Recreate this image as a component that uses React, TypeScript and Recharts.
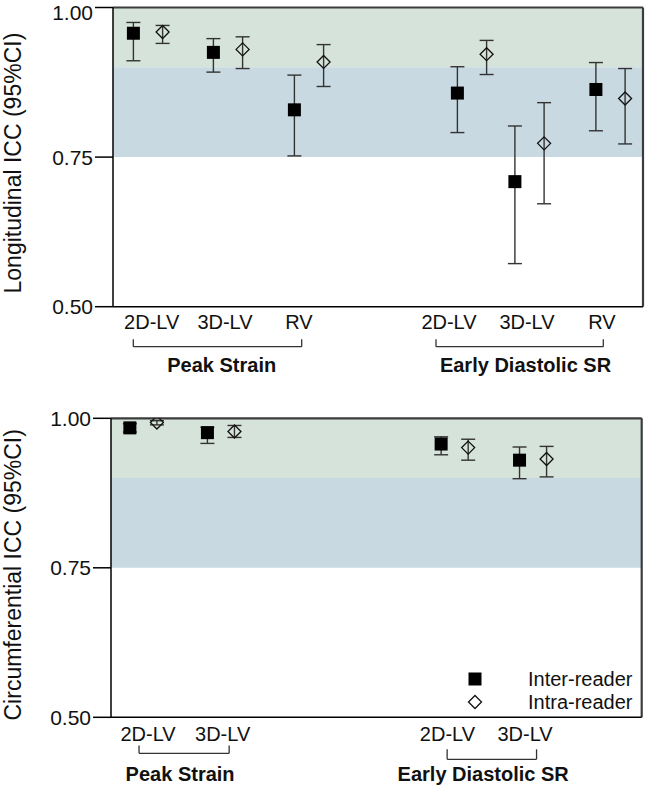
import React from "react";
import {
  ScatterChart,
  Scatter,
  XAxis,
  YAxis,
  ErrorBar,
  ReferenceArea,
  ReferenceLine,
  Label,
} from "recharts";

const FONT = "'Liberation Sans', Arial, Helvetica, sans-serif";

// shared
const seriesNames = ["Inter-reader", "Intra-reader"];
const yTicks = [0.5, 0.75, 1.0];
const excellentMin = 0.9;
const goodMin = 0.75;
const xDomain = [0, 53];

// longitudinal (top panel)
const longCategories = ["2D-LV", "3D-LV", "RV", "2D-LV", "3D-LV", "RV"];
const longPairPos = [3.5, 11.5, 19.6, 35.9, 41.65, 49.75];
const longLabelPos = [3.87, 11.2, 18.6, 33.6, 41.4, 48.9];
const longInter = [0.957, 0.925, 0.829, 0.857, 0.709, 0.863];
const longInterLo = [0.911, 0.892, 0.752, 0.791, 0.572, 0.794];
const longInterHi = [0.975, 0.948, 0.887, 0.901, 0.802, 0.908];
const longIntra = [0.959, 0.93, 0.909, 0.922, 0.773, 0.848];
const longIntraLo = [0.94, 0.898, 0.868, 0.888, 0.672, 0.772];
const longIntraHi = [0.97, 0.951, 0.938, 0.945, 0.841, 0.898];
const longGroups = ["Peak Strain", "Early Diastolic SR"];
const longGroupPos = [10.87, 41.25];
const longGroupY = 0.4154;
const longBrackets = [
  [2.03, 18.87],
  [32.3, 49.03],
];
const longBracketY = [0.4332, 0.4332];
const longBracketTop = [0.4455, 0.4455];

// circumferential (bottom panel)
const circCategories = ["2D-LV", "3D-LV", "2D-LV", "3D-LV"];
const circPairPos = [3.235, 10.98, 34.32, 42.15];
const circLabelPos = [3.7, 11.15, 33.6, 41.35];
const circInter = [0.984, 0.976, 0.957, 0.93];
const circInterLo = [0.977, 0.958, 0.939, 0.899];
const circInterHi = [0.991, 0.985, 0.969, 0.952];
const circIntra = [0.993, 0.978, 0.951, 0.932];
const circIntraLo = [0.989, 0.968, 0.93, 0.902];
const circIntraHi = [0.996, 0.988, 0.965, 0.953];
const circGroups = ["Peak Strain", "Early Diastolic SR"];
const circGroupPos = [6.9, 37.17];
const circGroupY = 0.4164;
const circBrackets = [
  [2.8, 11.8],
  [33.57, 42.5],
];
const circBracketY = [0.4398, 0.4298];
const circBracketTop = [0.4528, 0.4465];

function buildPoints(
  pos: number[],
  offset: number,
  icc: number[],
  lo: number[],
  hi: number[]
) {
  return icc.map((v, i) => ({
    x: pos[i] + offset,
    y: v,
    err: [v - lo[i], hi[i] - v],
  }));
}

const Square = (props: any) => {
  const { cx, cy } = props;
  return <rect x={cx - 6.5} y={cy - 6.5} width={13} height={13} fill="#000" />;
};

const Diamond = (props: any) => {
  const { cx, cy } = props;
  const r = 6.5;
  return (
    <path
      d={`M${cx},${cy - r}L${cx + r},${cy}L${cx},${cy + r}L${cx - r},${cy}Z`}
      fill="none"
      stroke="#111"
      strokeWidth={1.3}
    />
  );
};

const yLabel = (text: string, dy: number) => (props: any) => {
  const vb = props.viewBox || { x: 0, y: 0, width: 0, height: 0 };
  const cx = vb.x + 13;
  const cy = vb.y + vb.height / 2 + dy;
  return (
    <text
      x={cx}
      y={cy}
      transform={`rotate(-90 ${cx} ${cy})`}
      textAnchor="middle"
      dominantBaseline="central"
      fontSize={23}
      fill="#111"
      fontFamily={FONT}
    >
      {text}
    </text>
  );
};

interface PanelProps {
  height: number;
  marginTop: number;
  marginRight: number;
  yWidth: number;
  xAxisH: number;
  tickMargin: number;
  yLabelText: string;
  yLabelDy: number;
  categories: string[];
  labelPos: number[];
  pairPos: number[];
  offset: number;
  inter: number[];
  interLo: number[];
  interHi: number[];
  intra: number[];
  intraLo: number[];
  intraHi: number[];
  groups: string[];
  groupPos: number[];
  groupY: number;
  brackets: number[][];
  bracketY: number[];
  bracketTop: number[];
}

function Panel(p: PanelProps) {
  const interData = buildPoints(p.pairPos, -p.offset, p.inter, p.interLo, p.interHi);
  const intraData = buildPoints(p.pairPos, p.offset, p.intra, p.intraLo, p.intraHi);
  const lineStyle = { stroke: "#333", strokeWidth: 1.3 };
  const frame = { stroke: "#3c3c3c", strokeWidth: 2.2 };

  return (
    <ScatterChart
      width={645}
      height={p.height}
      margin={{ top: p.marginTop, right: p.marginRight, bottom: 0, left: 0 }}
      style={{ fontFamily: FONT }}
    >
      <XAxis
        type="number"
        dataKey="x"
        domain={xDomain}
        ticks={p.labelPos}
        interval={0}
        tickFormatter={(v: number) => p.categories[p.labelPos.indexOf(v)]}
        axisLine={{ stroke: "#000", strokeWidth: 1.5 }}
        tickLine={false}
        tickMargin={p.tickMargin}
        tick={{ fontSize: 20, fill: "#111", fontFamily: FONT }}
        height={p.xAxisH}
        allowDataOverflow
      />
      <YAxis
        type="number"
        dataKey="y"
        domain={[0.5, 1]}
        ticks={yTicks}
        tickFormatter={(v: number) => v.toFixed(2)}
        width={p.yWidth}
        tickSize={18}
        tickMargin={2}
        axisLine={{ stroke: "#000", strokeWidth: 1.5 }}
        tickLine={{ stroke: "#000", strokeWidth: 1.5 }}
        tick={{ fontSize: 21, fill: "#111", fontFamily: FONT }}
        allowDataOverflow
      >
        <Label content={yLabel(p.yLabelText, p.yLabelDy)} />
      </YAxis>

      <ReferenceArea y1={excellentMin} y2={1} fill="#d6e3da" fillOpacity={1} />
      <ReferenceArea y1={goodMin} y2={excellentMin} fill="#c9d9e2" fillOpacity={1} />
      <ReferenceLine
        segment={[
          { x: xDomain[0], y: 1 },
          { x: xDomain[1], y: 1 },
        ]}
        ifOverflow="visible"
        {...frame}
      />
      <ReferenceLine
        segment={[
          { x: xDomain[1], y: 0.5 },
          { x: xDomain[1], y: 1 },
        ]}
        ifOverflow="visible"
        {...frame}
      />

      {p.brackets.map(([a, b], i) => (
        <ReferenceLine
          key={`h${i}`}
          segment={[
            { x: a, y: p.bracketY[i] },
            { x: b, y: p.bracketY[i] },
          ]}
          ifOverflow="visible"
          {...lineStyle}
        />
      ))}
      {p.brackets.flatMap(([a, b], i) =>
        [a, b].map((x, j) => (
          <ReferenceLine
            key={`v${i}-${j}`}
            segment={[
              { x, y: p.bracketY[i] },
              { x, y: p.bracketTop[i] },
            ]}
            ifOverflow="visible"
            {...lineStyle}
          />
        ))
      )}
      {p.groups.map((g, i) => (
        <ReferenceLine
          key={`g${i}`}
          segment={[
            { x: p.groupPos[i] - 0.5, y: p.groupY },
            { x: p.groupPos[i] + 0.5, y: p.groupY },
          ]}
          ifOverflow="visible"
          stroke="none"
          label={{
            value: g,
            position: "bottom",
            offset: 0,
            fontSize: 20,
            fontWeight: 700,
            fill: "#111",
            fontFamily: FONT,
          }}
        />
      ))}

      <Scatter
        name={seriesNames[0]}
        data={interData}
        shape={Square}
        isAnimationActive={false}
      >
        <ErrorBar
          dataKey="err"
          direction="y"
          width={7}
          stroke="#333"
          strokeWidth={1.4}
          isAnimationActive={false}
        />
      </Scatter>
      <Scatter
        name={seriesNames[1]}
        data={intraData}
        shape={Diamond}
        isAnimationActive={false}
      >
        <ErrorBar
          dataKey="err"
          direction="y"
          width={7}
          stroke="#333"
          strokeWidth={1.4}
          isAnimationActive={false}
        />
      </Scatter>
    </ScatterChart>
  );
}

function ChartLegend() {
  return (
    <div
      style={{
        position: "absolute",
        left: 462,
        top: 668,
        fontFamily: FONT,
        fontSize: 20,
        color: "#111",
      }}
    >
      {seriesNames.map((name, i) => (
        <div
          key={name}
          style={{ display: "flex", alignItems: "center", height: 22.4 }}
        >
          <svg width={26} height={22} style={{ display: "block" }}>
            {i === 0 ? (
              <rect x={6.5} y={4.5} width={13} height={13} fill="#000" />
            ) : (
              <path d="M13,4.5L19.5,11L13,17.5L6.5,11Z" fill="#fff" stroke="#111" strokeWidth={1.3} />
            )}
          </svg>
          <span style={{ marginLeft: 40, lineHeight: "22px" }}>{name}</span>
        </div>
      ))}
    </div>
  );
}

export default function App() {
  return (
    <div
      style={{
        position: "absolute",
        left: 0,
        top: 0,
        width: 645,
        height: 786,
        background: "#fff",
      }}
    >
      <div style={{ position: "absolute", left: 0, top: 0 }}>
        <Panel
          height={380}
          marginTop={7.5}
          marginRight={2}
          yWidth={113}
          xAxisH={73.3}
          tickMargin={2}
          yLabelText="Longitudinal ICC (95%CI)"
          yLabelDy={6}
          categories={longCategories}
          labelPos={longLabelPos}
          pairPos={longPairPos}
          offset={1.46}
          inter={longInter}
          interLo={longInterLo}
          interHi={longInterHi}
          intra={longIntra}
          intraLo={longIntraLo}
          intraHi={longIntraHi}
          groups={longGroups}
          groupPos={longGroupPos}
          groupY={longGroupY}
          brackets={longBrackets}
          bracketY={longBracketY}
          bracketTop={longBracketTop}
        />
      </div>
      <div style={{ position: "absolute", left: 0, top: 380 }}>
        <Panel
          height={406}
          marginTop={38.3}
          marginRight={3.3}
          yWidth={111}
          xAxisH={68.7}
          tickMargin={3}
          yLabelText="Circumferential ICC (95%CI)"
          yLabelDy={7}
          categories={circCategories}
          labelPos={circLabelPos}
          pairPos={circPairPos}
          offset={1.35}
          inter={circInter}
          interLo={circInterLo}
          interHi={circInterHi}
          intra={circIntra}
          intraLo={circIntraLo}
          intraHi={circIntraHi}
          groups={circGroups}
          groupPos={circGroupPos}
          groupY={circGroupY}
          brackets={circBrackets}
          bracketY={circBracketY}
          bracketTop={circBracketTop}
        />
      </div>
      <ChartLegend />
    </div>
  );
}
